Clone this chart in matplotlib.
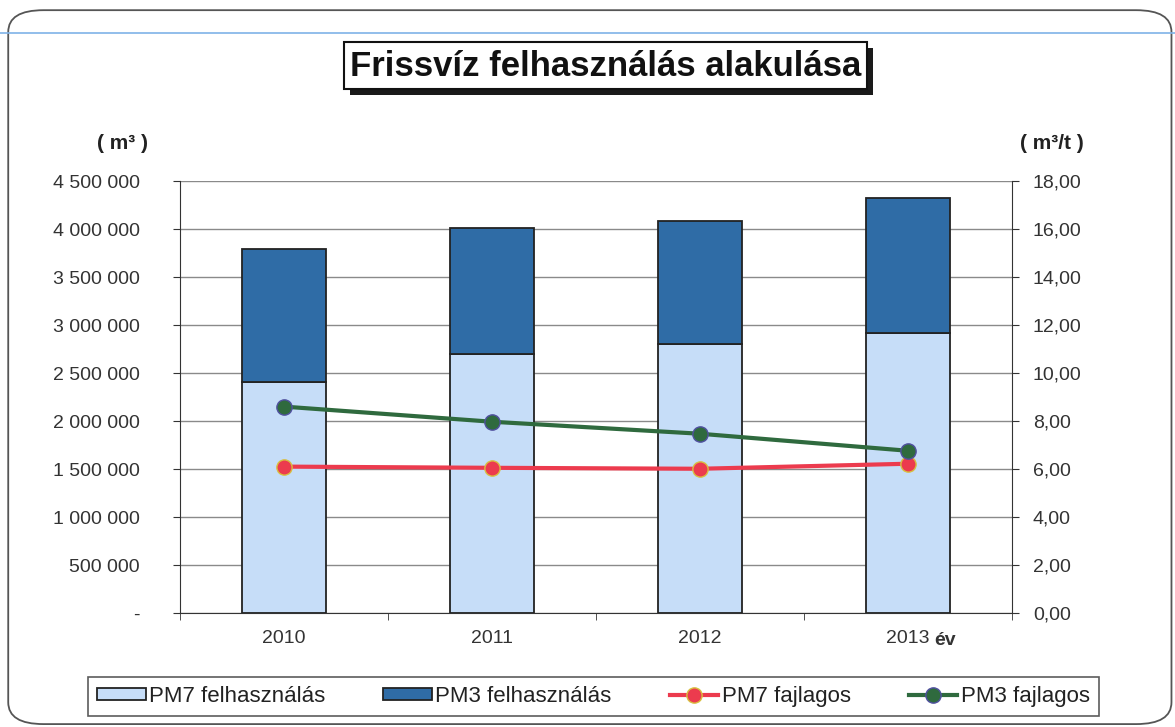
import matplotlib.pyplot as plt
import numpy as np
from matplotlib.patches import FancyBboxPatch, Rectangle
from matplotlib.ticker import FuncFormatter, MultipleLocator

plt.rcParams['font.family'] = ['Liberation Sans', 'DejaVu Sans']

years = ['2010', '2011', '2012', '2013']
pm7_use = [2410000, 2700000, 2800000, 2920000]
pm3_use = [1380000, 1310000, 1280000, 1400000]
pm7_spec = [6.10, 6.05, 6.01, 6.22]
pm3_spec = [8.60, 7.97, 7.47, 6.76]

c_pm7 = '#c6ddf8'
c_pm3 = '#2f6ca6'
c_red = '#ec3b4e'
c_green = '#2f6a3e'
c_txt = '#333333'

fig = plt.figure(figsize=(11.75, 7.27), dpi=100)

# keret + kék vonal (szkennelt lap)
fig.patches.append(FancyBboxPatch((0.007, 0.004), 0.990, 0.982,
                                  boxstyle='round,pad=0,rounding_size=0.03',
                                  transform=fig.transFigure, fill=False,
                                  edgecolor='#555555', lw=1.3))
fig.add_artist(plt.Line2D([0, 1], [0.955, 0.955], transform=fig.transFigure,
                          color='#7fb3e8', lw=1.2))

ax1 = fig.add_axes([0.1532, 0.1568, 0.7081, 0.5942])
x = np.arange(len(years))
w = 0.4

ax1.bar(x, pm7_use, width=w, color=c_pm7, edgecolor='#222222', lw=1.3,
        label='PM7 felhasználás', zorder=3)
ax1.bar(x, pm3_use, width=w, bottom=pm7_use, color=c_pm3, edgecolor='#222222',
        lw=1.3, label='PM3 felhasználás', zorder=3)

ax1.set_xlim(-0.5, len(years) - 0.5)
ax1.set_ylim(0, 4500000)
ax1.yaxis.set_major_locator(MultipleLocator(500000))
ax1.yaxis.set_major_formatter(FuncFormatter(
    lambda v, p: '-' if v == 0 else f'{int(v):,}'.replace(',', ' ')))
ax1.grid(axis='y', color='#8a8a8a', lw=1.0, zorder=0)
ax1.set_xticks(x)
ax1.set_xticklabels(years)
ax1.set_xticks(np.arange(-0.5, len(years)), minor=True)
ax1.tick_params(axis='x', which='major', length=0, pad=12, labelsize=14, colors=c_txt)
ax1.tick_params(axis='x', which='minor', length=5, direction='out', color=c_txt)
ax1.tick_params(axis='y', length=5, labelsize=14, colors=c_txt, pad=24)
for s in ['top', 'right']:
    ax1.spines[s].set_visible(False)
ax1.spines['left'].set_color(c_txt)
ax1.spines['bottom'].set_color(c_txt)

ax2 = ax1.twinx()
ax2.plot(x, pm7_spec, color=c_red, lw=3, marker='o', ms=11,
         mfc=c_red, mec='#d8c040', mew=1, label='PM7 fajlagos', zorder=4)
ax2.plot(x, pm3_spec, color=c_green, lw=3, marker='o', ms=11,
         mfc=c_green, mec='#5050a0', mew=1, label='PM3 fajlagos', zorder=4)
ax2.set_ylim(0, 18)
ax2.yaxis.set_major_locator(MultipleLocator(2))
ax2.yaxis.set_major_formatter(FuncFormatter(lambda v, p: f'{v:.2f}'.replace('.', ',')))
ax2.tick_params(axis='y', length=5, labelsize=14, colors=c_txt, pad=10)
for s in ['top', 'left', 'bottom']:
    ax2.spines[s].set_visible(False)
ax2.spines['right'].set_color(c_txt)

fig.text(0.104, 0.802, '( m³ )', fontsize=15, fontweight='bold', ha='center', va='center', color='#222222')
fig.text(0.895, 0.802, '( m³/t )', fontsize=15, fontweight='bold', ha='center', va='center', color='#222222')
fig.text(0.804, 0.119, 'év', fontsize=14, fontweight='bold', ha='center', va='center', color=c_txt)

# cím dobozban, árnyékkal
fig.patches.append(Rectangle((0.2979, 0.8694), 0.4451, 0.0646, transform=fig.transFigure,
                             facecolor='#1a1a1a', edgecolor='none'))
fig.patches.append(Rectangle((0.2928, 0.8776), 0.4451, 0.0646, transform=fig.transFigure,
                             facecolor='white', edgecolor='#111111', lw=1.5))
fig.text(0.5153, 0.909, 'Frissvíz felhasználás alakulása', fontsize=25, fontweight='bold',
         ha='center', va='center', color='#111111')

h1, l1 = ax1.get_legend_handles_labels()
h2, l2 = ax2.get_legend_handles_labels()
leg = fig.legend(h1 + h2, l1 + l2, loc='center', bbox_to_anchor=(0.505, 0.042), ncol=4,
                 fontsize=16, frameon=True, fancybox=False, edgecolor=c_txt,
                 handlelength=2.2, handleheight=0.5, handletextpad=0.15,
                 columnspacing=2.6, borderpad=0.4, borderaxespad=0)
leg.get_frame().set_linewidth(1.2)
for t in leg.get_texts():
    t.set_color('#222222')

fig.savefig('out.png', dpi=100)
